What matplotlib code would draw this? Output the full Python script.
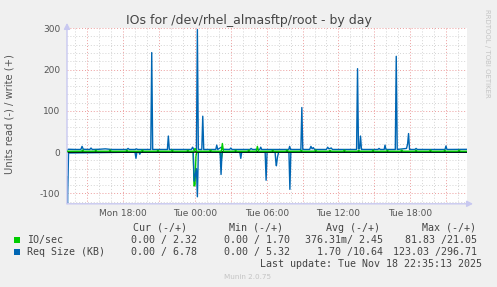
import matplotlib
matplotlib.use("Agg")
import matplotlib.pyplot as plt
from matplotlib.patches import Rectangle

# ---------------- data (hours since Mon 00:00) ----------------
blue_write_t = [13.29, 13.40, 14.00, 14.45, 14.55, 14.65, 15.20, 15.30, 15.40, 16.00, 16.50,
                17.00, 18.30, 18.40, 18.50, 19.00, 19.10, 19.20, 20.30, 20.38, 20.46, 21.69,
                21.77, 21.85, 23.70, 23.80, 23.90, 24.12, 24.20, 24.28, 24.57, 24.65, 24.73,
                25.74, 25.82, 25.90, 26.20, 26.30, 26.90, 27.00, 27.10, 28.60, 28.70, 28.80,
                29.42, 29.50, 29.58, 31.85, 31.92, 32.00, 32.86, 32.94, 33.02, 33.60, 33.70,
                33.80, 33.90, 34.00, 35.00, 35.10, 35.20, 35.40, 35.50, 37.52, 37.60, 37.68,
                37.77, 37.85, 37.93, 39.30, 39.40, 39.50, 39.83, 39.90, 39.98, 40.76, 40.84,
                40.92, 41.70, 41.79, 41.87, 41.95, 42.40, 42.50, 42.60, 44.92, 45.00, 45.08,
                46.70]
blue_write_v = [5.5, 7.0, 6.5, 6.5, 14.0, 7.0, 6.5, 10.0, 6.5, 7.0, 8.0,
                6.5, 6.5, 9.0, 6.5, 6.5, 8.0, 6.5, 6.5, 241.0, 6.5, 6.5,
                39.0, 6.5, 6.5, 12.0, 6.0, 6.5, 297.0, 6.5, 6.5, 87.0, 6.5,
                6.5, 17.0, 6.5, 12.0, 7.0, 6.5, 10.0, 6.5, 6.5, 9.0, 6.5,
                6.5, 12.0, 6.5, 6.5, 14.0, 6.5, 6.5, 108.0, 6.5, 6.5, 14.0,
                8.0, 11.0, 6.5, 6.5, 12.0, 8.0, 10.0, 6.5, 6.5, 202.0, 8.0,
                8.0, 39.0, 6.5, 6.5, 9.0, 6.5, 6.5, 17.0, 6.5, 6.5, 232.0,
                6.5, 9.0, 20.0, 45.0, 6.5, 6.5, 9.0, 6.5, 6.5, 15.0, 6.5,
                6.8]

green_write_t = [13.29, 14.50, 14.60, 14.70, 15.60, 15.70, 15.80, 16.80, 16.90, 17.00, 18.20,
                 18.30, 18.40, 19.50, 19.60, 19.70, 20.80, 20.90, 21.00, 22.00, 22.10, 22.20,
                 23.30, 23.40, 23.50, 23.92, 24.00, 24.10, 24.20, 25.20, 25.30, 25.40, 26.20,
                 26.29, 26.38, 27.30, 27.40, 27.50, 28.40, 28.50, 28.60, 29.13, 29.22, 29.31,
                 30.40, 30.50, 30.60, 31.60, 31.70, 31.80, 32.80, 32.90, 33.00, 34.00, 34.10,
                 34.20, 35.20, 35.30, 35.40, 36.40, 36.50, 36.60, 37.60, 37.70, 37.80, 38.80,
                 38.90, 39.00, 40.00, 40.10, 40.20, 41.20, 41.30, 41.40, 42.40, 42.50, 42.60,
                 43.60, 43.70, 43.80, 44.80, 44.90, 45.00, 46.00, 46.10, 46.20, 46.70]
green_write_v = [2.3, 2.3, 5.0, 2.3, 2.3, 4.5, 2.3, 2.3, 5.0, 2.3, 2.3,
                 4.5, 2.3, 2.3, 5.0, 2.3, 2.3, 4.5, 2.3, 2.3, 5.0, 2.3,
                 2.3, 4.5, 2.3, 2.3, 9.0, 4.0, 2.3, 2.3, 5.0, 2.3, 2.3,
                 21.0, 2.3, 2.3, 4.5, 2.3, 2.3, 5.0, 2.3, 2.3, 14.0, 2.3,
                 2.3, 4.5, 2.3, 2.3, 5.0, 2.3, 2.3, 4.5, 2.3, 2.3, 5.0,
                 2.3, 2.3, 4.5, 2.3, 2.3, 5.0, 2.3, 2.3, 4.5, 2.3, 2.3,
                 5.0, 2.3, 2.3, 4.5, 2.3, 2.3, 5.0, 2.3, 2.3, 4.5, 2.3,
                 2.3, 5.0, 2.3, 2.3, 4.5, 2.3, 2.3, 5.0, 2.3, 2.32]

blue_read_t = [13.29, 13.33, 13.42, 18.98, 19.06, 19.14, 19.30, 19.38, 19.46, 23.85, 23.93,
               24.12, 24.20, 24.28, 26.10, 26.18, 26.26, 27.75, 27.83, 27.91, 29.87, 29.95,
               30.03, 30.70, 30.77, 30.81, 30.90, 31.00, 31.86, 31.94, 32.02, 46.70]
blue_read_v = [-60.0, -123.0, -2.0, 0.0, -15.0, 0.0, 0.0, -5.0, 0.0, 0.0, -70.0,
               -40.0, -108.0, 0.0, 0.0, -54.0, 0.0, 0.0, -15.0, 0.0, 0.0, -68.0,
               0.0, 0.0, -25.0, -33.0, -12.0, 0.0, 0.0, -90.0, 0.0, 0.0]

green_read_t = [13.29, 23.85, 23.92, 24.00, 24.08, 24.15, 26.10, 26.20, 26.30, 46.70]
green_read_v = [0.0, 0.0, -82.0, -80.0, -10.0, 0.0, 0.0, -19.0, 0.0, 0.0]

x_ticks = [18, 24, 30, 36, 42]
x_tick_labels = ["Mon 18:00", "Tue 00:00", "Tue 06:00", "Tue 12:00", "Tue 18:00"]
y_ticks = [-100, 0, 100, 200, 300]

legend_names = ["IO/sec", "Req Size (KB)"]
legend_colors = ["#00CC00", "#0066B3"]
cur_vals = ["0.00 / 2.32", "0.00 / 6.78"]
min_vals = ["0.00 / 1.70", "0.00 / 5.32"]
avg_vals = ["376.31m/ 2.45", "1.70 /10.64"]
max_vals = ["81.83 /21.05", "123.03 /296.71"]

# ---------------- figure ----------------
W, H = 497, 287
fig = plt.figure(figsize=(W / 100, H / 100), dpi=100, facecolor="#F0F0F0")

def fx(px):
    return px / W

def fy(py):
    return 1 - py / H

ax_l, ax_r, ax_t, ax_b = 67, 467, 28.2, 203.8
ax = fig.add_axes([fx(ax_l), fy(ax_b), (ax_r - ax_l) / W, (ax_b - ax_t) / H])
ax.set_facecolor("white")
xmin, xmax = 13.29, 46.76
ymin, ymax = -125, 300
ax.set_xlim(xmin, xmax)
ax.set_ylim(ymin, ymax)
for s in ax.spines.values():
    s.set_visible(False)

# grid
grid_minor = "#D4D4D4"
grid_major = "#EC9C9C"
h = 14
while h <= 46:
    col = grid_major if h % 3 == 0 else grid_minor
    ax.axvline(h, color=col, lw=0.7, ls=(0, (1, 2)), zorder=0.5)
    h += 1
for v in range(-120, 301, 20):
    col = grid_major if v % 100 == 0 else grid_minor
    ax.axhline(v, color=col, lw=0.7, ls=(0, (1, 2)), zorder=0.5)

ax.set_xticks(x_ticks)
ax.set_xticklabels(x_tick_labels)
ax.set_yticks(y_ticks)
ax.set_yticklabels([str(v) for v in y_ticks])
ax.tick_params(axis="both", length=0, labelsize=6.5, labelcolor="#555555")
ax.tick_params(axis="y", pad=5)
ax.tick_params(axis="x", pad=4)

# series
ax.plot(green_read_t, green_read_v, color="#00CC00", lw=1.0, zorder=2)
ax.plot(blue_read_t, blue_read_v, color="#0066B3", lw=1.0, zorder=2.1)
ax.axhline(0, color="black", lw=1.1, zorder=2.5)
ax.plot(blue_write_t, blue_write_v, color="#0066B3", lw=1.0, zorder=3)
ax.plot(green_write_t, green_write_v, color="#00CC00", lw=1.0, zorder=3.1)

# axes arrows
axis_col = "#C8C8F0"
ax.annotate("", xy=(0, 1.03), xytext=(0, 0), xycoords="axes fraction",
            arrowprops=dict(arrowstyle="-|>,head_length=0.35,head_width=0.18",
                            color=axis_col, lw=1.0, shrinkA=0, shrinkB=0), annotation_clip=False)
ax.annotate("", xy=(1.015, 0), xytext=(0, 0), xycoords="axes fraction",
            arrowprops=dict(arrowstyle="-|>,head_length=0.35,head_width=0.18",
                            color=axis_col, lw=1.0, shrinkA=0, shrinkB=0), annotation_clip=False)

# texts
fig.text(fx(248.5), fy(24.3), "IOs for /dev/rhel_almasftp/root - by day", ha="center",
         va="baseline", fontsize=9.0, color="#444444")
fig.text(fx(10), fy(114), "Units read (-) / write (+)", rotation=90, ha="center",
         va="center", fontsize=7.2, color="#555555")
fig.text(fx(487), fy(53), "RRDTOOL / TOBI OETIKER", rotation=270, ha="center",
         va="center", fontsize=5, color="#C4C4C4")

mono = "DejaVu Sans Mono"
tcol = "#444444"
fs = 7.2
hdr_y = 230.7
fig.text(fx(187), fy(hdr_y), "Cur (-/+)", ha="right", va="baseline", family=mono, fontsize=fs, color=tcol)
fig.text(fx(283), fy(hdr_y), "Min (-/+)", ha="right", va="baseline", family=mono, fontsize=fs, color=tcol)
fig.text(fx(380), fy(hdr_y), "Avg (-/+)", ha="right", va="baseline", family=mono, fontsize=fs, color=tcol)
fig.text(fx(476), fy(hdr_y), "Max (-/+)", ha="right", va="baseline", family=mono, fontsize=fs, color=tcol)

row_y = [243.3, 255.0]
for i in range(2):
    y = row_y[i]
    fig.patches.append(Rectangle((fx(14), fy(y - 0.5)), 6 / W, 6 / H, transform=fig.transFigure,
                                 facecolor=legend_colors[i], edgecolor="none"))
    fig.text(fx(27), fy(y), legend_names[i], ha="left", va="baseline", family=mono, fontsize=fs, color=tcol)
    fig.text(fx(197), fy(y), cur_vals[i], ha="right", va="baseline", family=mono, fontsize=fs, color=tcol)
    fig.text(fx(290), fy(y), min_vals[i], ha="right", va="baseline", family=mono, fontsize=fs, color=tcol)
    fig.text(fx(383.3), fy(y), avg_vals[i], ha="right", va="baseline", family=mono, fontsize=fs, color=tcol)
    fig.text(fx(476.7), fy(y), max_vals[i], ha="right", va="baseline", family=mono, fontsize=fs, color=tcol)

fig.text(fx(482.3), fy(267), "Last update: Tue Nov 18 22:35:13 2025", ha="right", va="baseline",
         family=mono, fontsize=fs, color=tcol)
fig.text(fx(247.7), fy(278.7), "Munin 2.0.75", ha="center", va="baseline", fontsize=5.2, color="#C4C4C4")

fig.savefig("out.png", dpi=100, facecolor=fig.get_facecolor())
